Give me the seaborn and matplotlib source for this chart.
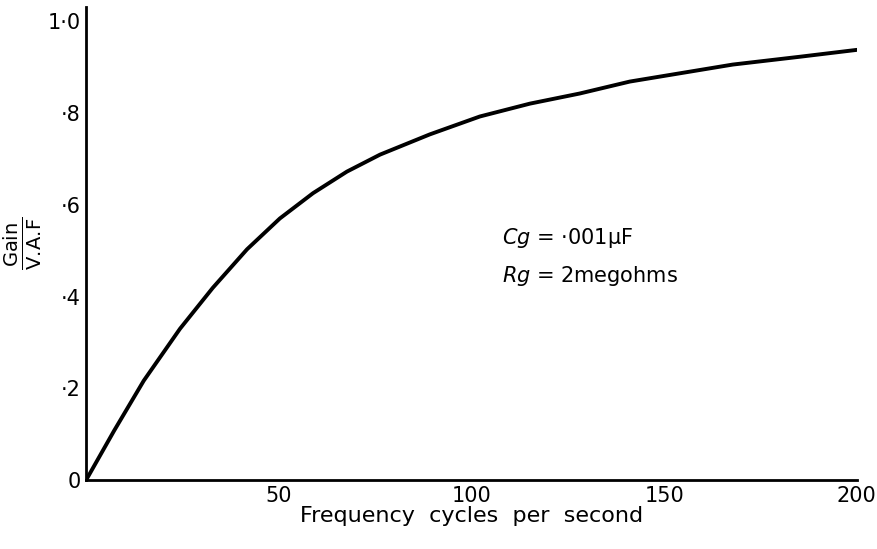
import matplotlib
matplotlib.use('Agg')
import matplotlib.pyplot as plt
import seaborn as sns
import pandas as pd

# values
freq = [0, 7.3, 15.0, 24.4, 32.9, 41.8, 50.3, 58.9, 67.7, 76.3, 89.2,
        102.2, 115.2, 128.1, 141.1, 167.8, 185.2, 200.0]
gain = [0, 0.108, 0.217, 0.330, 0.419, 0.503, 0.570, 0.625, 0.672, 0.709, 0.753,
        0.792, 0.820, 0.842, 0.868, 0.905, 0.922, 0.937]
x_ticks = [50, 100, 150, 200]
x_ticklabels = ['50', '100', '150', '200']
y_ticks = [0, 0.2, 0.4, 0.6, 0.8, 1.0]
y_ticklabels = ['0', '·2', '·4', '·6', '·8', '1·0']

sns.set_style('white')
plt.rcParams['font.family'] = ['DejaVu Sans']
plt.rcParams['mathtext.fontset'] = 'dejavusans'

df = pd.DataFrame({'freq': freq, 'gain': gain})

fig = plt.figure(figsize=(8.77, 5.49), dpi=100)
ax = fig.add_axes([0.098, 0.125, 0.879, 0.862])
sns.lineplot(data=df, x='freq', y='gain', ax=ax, color='black', linewidth=2.8,
             solid_joinstyle='round', solid_capstyle='round')

ax.set_xlim(0, 200)
ax.set_ylim(0, 1.03)
sns.despine(ax=ax)
for s in ['left', 'bottom']:
    ax.spines[s].set_linewidth(2)
    ax.spines[s].set_color('black')

ax.set_xticks(x_ticks)
ax.set_xticklabels(x_ticklabels, fontsize=15)
ax.set_yticks(y_ticks)
ax.set_yticklabels(y_ticklabels, fontsize=15)
ax.tick_params(length=0, pad=4, labelcolor='black')

ax.set_xlabel('Frequency  cycles  per  second', fontsize=16, labelpad=0, color='black')
ax.set_ylabel(r'$\frac{\mathrm{Gain}}{\mathrm{V.\!A.\!F}}$', fontsize=20, labelpad=2, color='black')

ax.text(0.54, 0.50, r'$Cg$ = ·001μF', transform=ax.transAxes, fontsize=15, color='black')
ax.text(0.54, 0.42, r'$Rg$ = 2megohms', transform=ax.transAxes, fontsize=15, color='black')

fig.savefig('out.png', dpi=100)
